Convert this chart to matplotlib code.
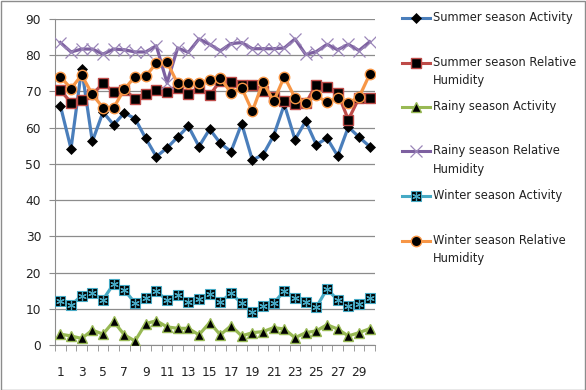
import matplotlib
matplotlib.use("Agg")
import matplotlib.pyplot as plt
from matplotlib.lines import Line2D
from matplotlib.patches import Rectangle
import numpy as np

plt.rcParams['font.family'] = ['DejaVu Sans']

days = list(range(1, 31))
tick_labels = [str(d) for d in range(1, 30, 2)]

summer_activity = [66.1, 54.2, 76.3, 56.2, 64.3, 60.8, 64.1, 62.5, 57.1, 52.0,
                   54.4, 57.4, 60.4, 54.8, 59.6, 55.7, 53.4, 61.1, 51.1, 52.5,
                   57.8, 66.4, 56.7, 61.8, 55.3, 57.1, 52.2, 60.2, 57.4, 54.8]
summer_rh = [70.4, 66.9, 67.6, 69.2, 72.2, 69.9, 70.5, 68.0, 69.4, 70.4,
             69.9, 71.0, 69.4, 71.0, 68.9, 73.0, 72.6, 71.9, 71.7, 70.1,
             68.5, 67.3, 66.5, 66.7, 71.9, 71.3, 69.6, 62.2, 68.2, 68.2]
rainy_activity = [3.0, 2.5, 1.8, 4.1, 3.0, 6.5, 2.8, 1.1, 5.9, 6.7,
                  5.0, 4.6, 4.6, 2.8, 6.2, 2.8, 5.3, 2.5, 3.4, 3.7,
                  4.8, 4.4, 2.0, 3.4, 3.9, 5.6, 4.4, 2.5, 3.4, 4.5]
rainy_rh = [83.5, 80.9, 81.7, 81.7, 80.3, 81.7, 81.5, 80.9, 80.9, 82.6,
            72.4, 82.0, 80.8, 84.5, 83.0, 81.2, 83.2, 83.5, 81.8, 81.8,
            81.8, 82.0, 84.5, 80.2, 81.0, 83.0, 81.5, 83.0, 81.3, 83.7]
winter_activity = [12.2, 11.0, 13.6, 14.3, 12.5, 16.9, 15.2, 11.6, 13.1, 14.8,
                   12.4, 13.8, 12.0, 12.7, 14.1, 11.8, 14.3, 11.5, 9.0, 10.8,
                   11.5, 15.0, 13.0, 11.8, 10.4, 15.5, 12.4, 10.8, 11.2, 13.0]
winter_rh = [74.1, 70.8, 74.5, 69.2, 65.5, 65.5, 70.6, 74.1, 74.2, 77.8,
             78.1, 72.2, 72.4, 72.4, 73.1, 73.8, 69.6, 71.0, 64.5, 72.6,
             67.3, 74.1, 68.2, 66.9, 68.9, 67.0, 68.2, 66.9, 68.4, 74.7]

series_names = ["Summer season Activity", "Summer season Relative\nHumidity",
                "Rainy season Activity", "Rainy season Relative\nHumidity",
                "Winter season Activity", "Winter season Relative\nHumidity"]

BLUE = "#4a7ebb"
RED = "#be4b48"
GREEN = "#98b954"
PURPLE = "#7d60a0"
TEAL = "#46aac5"
ORANGE = "#f79646"

styles = [
    dict(color=BLUE, marker="D", ms=5, mfc="black", mec="black", mew=0.5),
    dict(color=RED, marker="s", ms=7.5, mfc="black", mec=RED, mew=1.0),
    dict(color=GREEN, marker="^", ms=7, mfc="black", mec=GREEN, mew=1.0),
    dict(color=PURPLE, marker="x", ms=8.5, mfc="#9a85b8", mec="#9a85b8", mew=0.9),
    dict(color=TEAL, marker="s", ms=7.5, mfc="black", mec=TEAL, mew=0.8),
    dict(color=ORANGE, marker="o", ms=7.5, mfc="black", mec=ORANGE, mew=1.0),
]
data = [summer_activity, summer_rh, rainy_activity, rainy_rh,
        winter_activity, winter_rh]

W, H = 586, 390
fig = plt.figure(figsize=(W / 100, H / 100), dpi=100)
ax = fig.add_axes([55 / W, 1 - 345 / H, 320 / W, 326 / H])

x = np.array(days)
for i, (vals, st) in enumerate(zip(data, styles)):
    ax.plot(x, vals, lw=2.3, zorder=3 + i, **st)
    if i == 4:
        # asterisk glyph drawn over the square markers
        ax.plot(x, vals, ls="none", marker=(6, 2, 0), ms=6, mec=TEAL,
                mew=0.9, zorder=3 + i)

ax.set_xlim(0.5, 30.5)
ax.set_ylim(0, 90)
ax.set_yticks(range(0, 91, 10))
ax.yaxis.grid(True, color="#8c8c8c", lw=0.9)
ax.set_axisbelow(True)
for s in ("top", "right"):
    ax.spines[s].set_visible(False)
ax.spines["left"].set_color("#8c8c8c")
ax.spines["bottom"].set_color("#8c8c8c")
ax.tick_params(axis="y", length=4, color="#8c8c8c", labelsize=8.8,
               labelcolor="#222222", pad=6)
ax.set_xticks(range(1, 30, 2))
ax.set_xticklabels(tick_labels)
ax.set_xticks(np.arange(0.5, 31, 1), minor=True)
ax.tick_params(axis="x", which="major", length=0, labelsize=8.8,
               labelcolor="#222222", pad=15)
ax.tick_params(axis="x", which="minor", length=4, color="#8c8c8c")

# legend block on the right
for i, (name, st) in enumerate(zip(series_names, styles)):
    yp = 1 - (18 + 44.5 * i) / H
    fig.add_artist(Line2D([402 / W, 430 / W], [yp, yp], color=st["color"],
                          lw=2.2, transform=fig.transFigure))
    fig.add_artist(Line2D([416 / W], [yp], ls="none", marker=st["marker"],
                          ms=st["ms"], mfc=st["mfc"], mec=st["mec"],
                          mew=st["mew"], transform=fig.transFigure))
    if i == 4:
        fig.add_artist(Line2D([416 / W], [yp], ls="none", marker=(6, 2, 0),
                              ms=6, mec=TEAL, mew=0.9,
                              transform=fig.transFigure))
    fig.text(433 / W, yp + 7 / H, name, fontsize=8.3, va="top", ha="left",
             color="#222222", linespacing=1.55)

fig.add_artist(Rectangle((0.5 / W, 0.5 / H), 1 - 1.5 / W, 1 - 1.5 / H,
                         transform=fig.transFigure, fill=False,
                         edgecolor="#8c8c8c", lw=1))

fig.savefig("out.png", dpi=100)
